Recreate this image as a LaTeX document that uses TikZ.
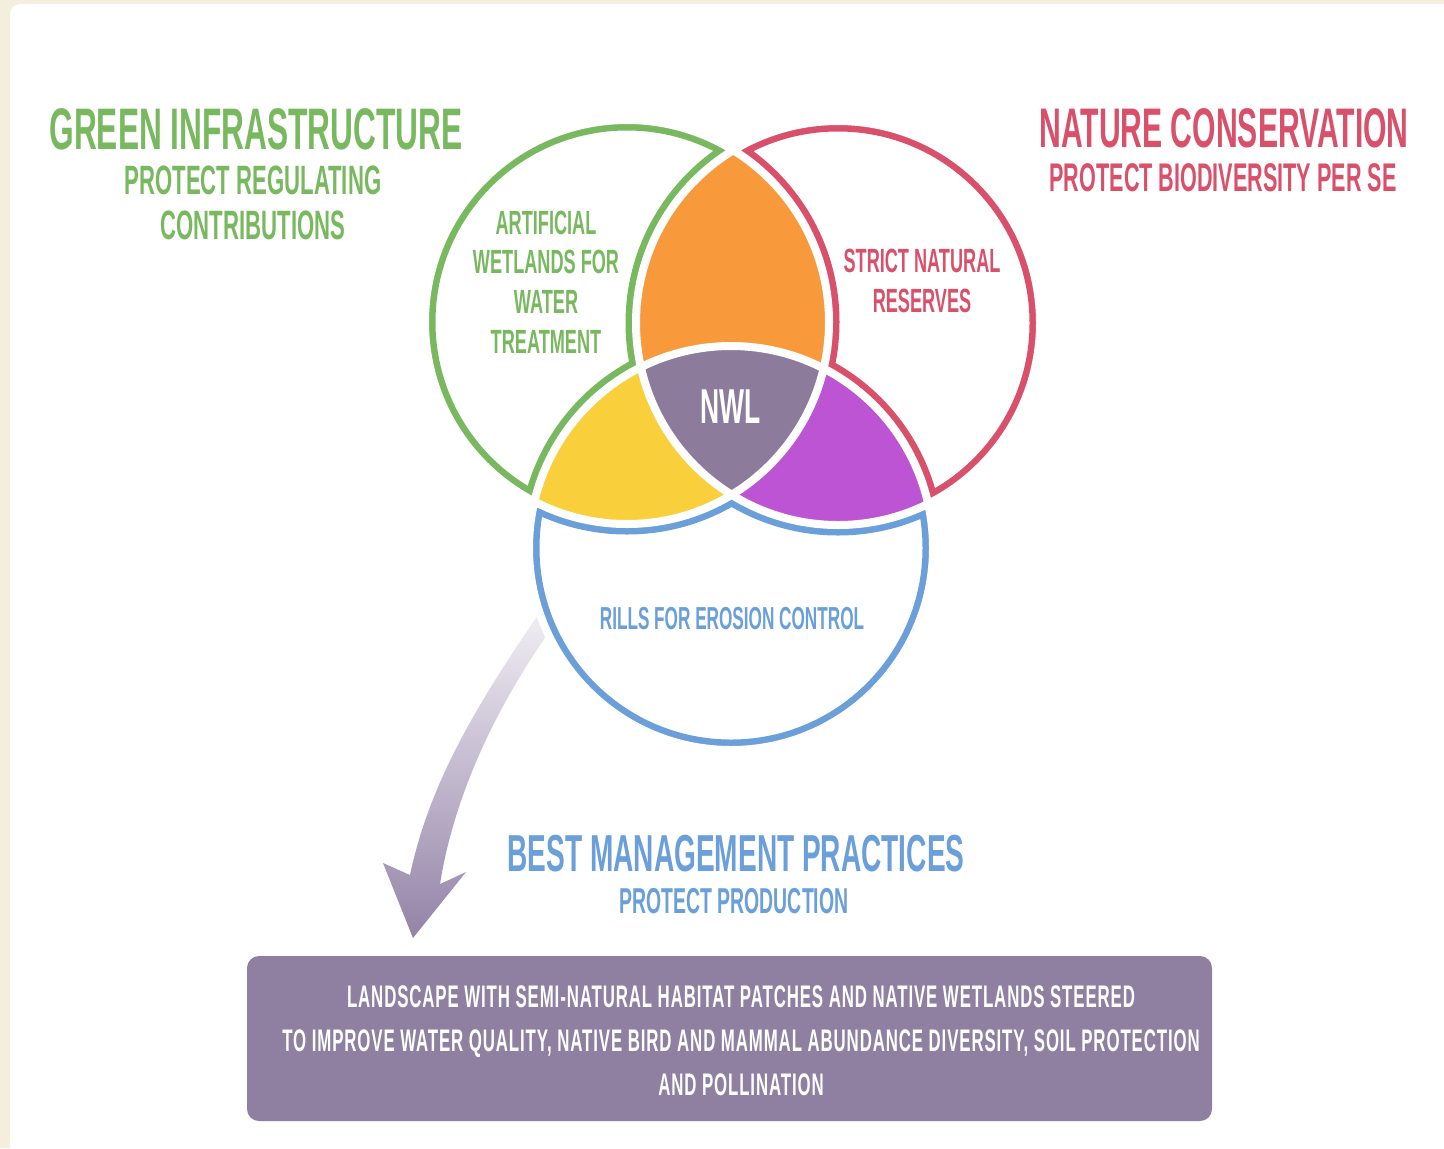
\documentclass[tikz,border=0pt]{standalone}
\usepackage{fontspec}
\newfontfamily\cond{Liberation Sans}[FakeStretch=0.54]
\newfontfamily\condwide{Liberation Sans}[FakeStretch=0.54, LetterSpace=2.8]
\definecolor{cream}{HTML}{F4EEDC}
\definecolor{gi}{HTML}{78B85E}
\definecolor{nc}{HTML}{D9506B}
\definecolor{bm}{HTML}{6A9FD9}
\definecolor{orangeF}{HTML}{F89A3C}
\definecolor{yellowF}{HTML}{F9D03C}
\definecolor{purpleF}{HTML}{BC54D3}
\definecolor{nwlF}{HTML}{8C7B9B}
\definecolor{boxF}{HTML}{8F80A2}
\definecolor{arrTop}{HTML}{F1EEF4}
\definecolor{arrMid}{HTML}{BBB0C8}
\definecolor{arrBot}{HTML}{9383A7}
\newcommand\rad{202}
\newcommand\pG{(cG) circle[radius=\rad]}
\newcommand\pR{(cR) circle[radius=\rad]}
\newcommand\pB{(cB) circle[radius=\rad]}
\newcommand\everything{(0,0) rectangle (1444,1148)}
\begin{document}
\begin{tikzpicture}[x=0.5pt,y=-0.5pt,
  lbl/.style={inner sep=0pt, align=center},
  inner/.style={lbl, font=\cond\bfseries\fontsize{16.8}{19.8}\selectfont},
  boxtext/.style={lbl, text=white, font=\condwide\bfseries\fontsize{15.6}{22}\selectfont},
  panel/.style={fill=boxF, rounded corners=6pt, inner sep=0pt, minimum width=482.5pt, minimum height=82.5pt},
  outl/.style={line width=10.5pt},
  gapline/.style={white, line width=4pt}]
\useasboundingbox \everything;
\fill[cream] \everything;
\fill[white, rounded corners=5pt] (10,4) rectangle (1480,1180);

\coordinate (cG) at (627,322);
\coordinate (cR) at (838,323);
\coordinate (cB) at (731,548);

% arrow
\coordinate (a1) at (540,612);
\coordinate (a2) at (480,700);
\coordinate (a3) at (430,780);
\coordinate (a4) at (410,875);
\coordinate (a5) at (383,863);
\coordinate (a6) at (413,938);
\coordinate (a7) at (466,872);
\coordinate (a8) at (440,884);
\coordinate (a9) at (455,790);
\coordinate (a10) at (500,700);
\coordinate (a11) at (556,622);
\shade[top color=arrTop, middle color=arrMid, bottom color=arrBot]
  (a1) .. controls (a2) and (a3) .. (a4) -- (a5) -- (a6) -- (a7) -- (a8)
  .. controls (a9) and (a10) .. (a11) -- cycle;

% venn
\fill[white] \pG \pR \pB;
\begin{scope}
  \clip \pG;
  \fill[orangeF] \pR;
  \fill[yellowF] \pB;
\end{scope}
\begin{scope}
  \clip \pR;
  \fill[purpleF] \pB;
\end{scope}
\begin{scope}
  \clip \pG; \clip \pR;
  \fill[nwlF] \pB;
\end{scope}
\begin{scope}[even odd rule]
  \clip \pG;
  \clip \everything \pR;
  \clip \everything \pB;
  \draw[gi, outl] \pG \pR \pB;
\end{scope}
\begin{scope}[even odd rule]
  \clip \pR;
  \clip \everything \pG;
  \clip \everything \pB;
  \draw[nc, outl] \pG \pR \pB;
\end{scope}
\begin{scope}[even odd rule]
  \clip \pB;
  \clip \everything \pG;
  \clip \everything \pR;
  \draw[bm, outl] \pG \pR \pB;
\end{scope}
\draw[gapline] \pG \pR \pB;

% texts
\node[lbl, text=gi, font=\cond\bfseries\fontsize{29.3}{32}\selectfont] (titleG) at (256,129) {GREEN INFRASTRUCTURE};
\node[lbl, text=gi, font=\cond\bfseries\fontsize{20.5}{22.5}\selectfont] (subG) at (253,203) {PROTECT REGULATING\\CONTRIBUTIONS};
\node[lbl, text=nc, font=\cond\bfseries\fontsize{27.9}{32}\selectfont] (titleR) at (1224,128) {NATURE CONSERVATION};
\node[lbl, text=nc, font=\cond\bfseries\fontsize{20}{22.5}\selectfont] (subR) at (1223,178) {PROTECT BIODIVERSITY PER SE};
\node[inner, text=gi] (txtG) at (546,282) {ARTIFICIAL\\WETLANDS FOR\\WATER\\TREATMENT};
\node[inner, text=nc] (txtR) at (922,281) {STRICT NATURAL\\RESERVES};
\node[lbl, text=white, font=\cond\bfseries\fontsize{24.5}{26}\selectfont] (nwl) at (731,407) {NWL};
\node[lbl, text=bm, font=\cond\bfseries\fontsize{15.9}{18}\selectfont] (rills) at (732,619) {RILLS FOR EROSION CONTROL};
\node[lbl, text=bm, font=\cond\bfseries\fontsize{26}{30}\selectfont] (bmp) at (736,854) {BEST MANAGEMENT PRACTICES};
\node[lbl, text=bm, font=\cond\bfseries\fontsize{18}{21}\selectfont] (prod) at (734,901) {PROTECT PRODUCTION};

\node[panel] (box) at (729.5,1038.5) {};
\node[boxtext] (boxtxt) at (741,1041) {LANDSCAPE WITH SEMI-NATURAL HABITAT PATCHES AND NATIVE WETLANDS STEERED\\TO IMPROVE WATER QUALITY, NATIVE BIRD AND MAMMAL ABUNDANCE DIVERSITY, SOIL PROTECTION\\AND POLLINATION};
\end{tikzpicture}
\end{document}
